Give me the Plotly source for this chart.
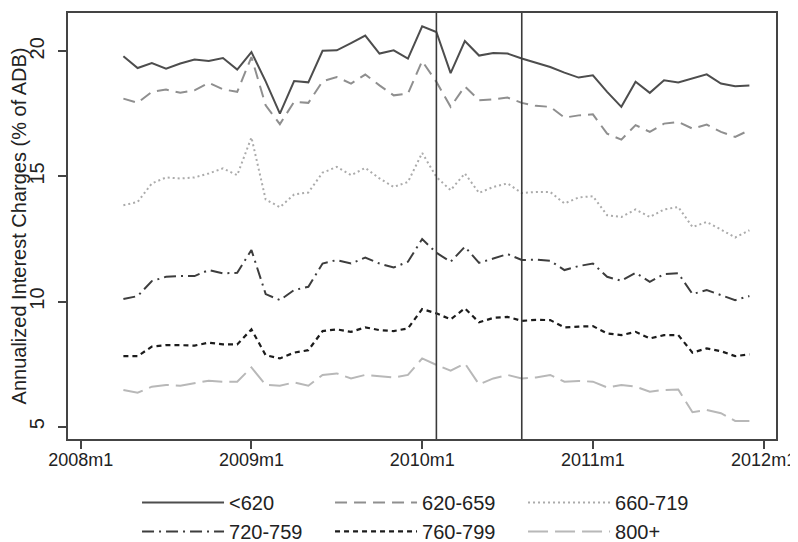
import pandas as pd
import plotly.graph_objects as go

# ---- data ----
start_month = "2008-04"
end_month = "2011-12"

s_lt620 = [19.80, 19.33, 19.53, 19.31, 19.51, 19.67, 19.61, 19.73, 19.27, 19.97,
           18.80, 17.51, 18.81, 18.76, 20.02, 20.04, 20.33, 20.63, 19.91, 20.04,
           19.71, 21.00, 20.77, 19.13, 20.41, 19.83, 19.93, 19.91, 19.71, 19.55,
           19.37, 19.15, 18.95, 19.04, 18.38, 17.78, 18.78, 18.34, 18.84, 18.75,
           18.91, 19.08, 18.71, 18.60, 18.63]
s_620_659 = [18.11, 17.94, 18.38, 18.47, 18.34, 18.44, 18.74, 18.48, 18.38, 19.77,
             17.84, 17.09, 17.98, 17.94, 18.80, 18.97, 18.71, 19.07, 18.64, 18.24,
             18.31, 19.61, 18.78, 17.78, 18.60, 18.04, 18.08, 18.15, 17.94, 17.82,
             17.78, 17.35, 17.44, 17.48, 16.71, 16.47, 17.05, 16.78, 17.11, 17.18,
             16.91, 17.07, 16.78, 16.58, 16.85]
s_660_719 = [13.85, 13.98, 14.72, 14.96, 14.92, 14.96, 15.12, 15.32, 15.05, 16.56,
             14.08, 13.77, 14.28, 14.36, 15.15, 15.38, 15.05, 15.34, 14.92, 14.58,
             14.78, 15.94, 14.98, 14.45, 15.12, 14.34, 14.58, 14.72, 14.34, 14.38,
             14.38, 13.92, 14.16, 14.21, 13.45, 13.38, 13.68, 13.38, 13.68, 13.78,
             12.98, 13.18, 12.88, 12.56, 12.85]
s_720_759 = [10.10, 10.22, 10.82, 10.99, 11.02, 11.02, 11.26, 11.13, 11.15, 12.06,
             10.30, 10.06, 10.46, 10.59, 11.52, 11.66, 11.52, 11.76, 11.52, 11.36,
             11.59, 12.50, 11.95, 11.59, 12.19, 11.55, 11.72, 11.90, 11.66, 11.68,
             11.63, 11.26, 11.42, 11.52, 10.99, 10.83, 11.15, 10.79, 11.10, 11.13,
             10.30, 10.46, 10.26, 10.06, 10.22]
s_760_799 = [7.82, 7.82, 8.20, 8.26, 8.26, 8.24, 8.36, 8.29, 8.29, 8.89,
             7.86, 7.73, 7.96, 8.06, 8.82, 8.89, 8.79, 8.97, 8.86, 8.82,
             8.93, 9.70, 9.53, 9.29, 9.73, 9.17, 9.35, 9.39, 9.23, 9.27,
             9.26, 8.97, 9.00, 9.02, 8.73, 8.66, 8.79, 8.53, 8.66, 8.66,
             7.96, 8.13, 8.02, 7.82, 7.89]
s_800plus = [6.47, 6.36, 6.60, 6.67, 6.64, 6.73, 6.84, 6.80, 6.80, 7.37,
             6.67, 6.64, 6.77, 6.64, 7.07, 7.13, 6.93, 7.07, 7.03, 6.97,
             7.07, 7.73, 7.47, 7.24, 7.53, 6.69, 6.93, 7.07, 6.93, 6.97,
             7.07, 6.80, 6.83, 6.80, 6.57, 6.67, 6.60, 6.40, 6.47, 6.49,
             5.58, 5.67, 5.54, 5.23, 5.23]

series_names = ["<620", "620-659", "660-719", "720-759", "760-799", "800+"]
x_tick_labels = ["2008m1", "2009m1", "2010m1", "2011m1", "2012m1"]
y_tick_values = [5, 10, 15, 20]
event_months = ["2010m2", "2010m8"]
y_title = "Annualized Interest Charges (% of ADB)"

# ---- helpers ----
def stata_tm(label):
    y, m = label.split("m")
    return (int(y) - 1960) * 12 + int(m) - 1

periods = pd.period_range(start_month, end_month, freq="M")
x_vals = [(p.year - 1960) * 12 + p.month - 1 for p in periods]
tick_vals = [stata_tm(t) for t in x_tick_labels]

styles = [
    dict(color="#4d4d4d", dash="solid", width=2),
    dict(color="#8f8f8f", dash="12px,7px", width=2),
    dict(color="#ababab", dash="2px,3px", width=2),
    dict(color="#3d3d3d", dash="12px,5px,2px,5px", width=2),
    dict(color="#1c1c1c", dash="5px,4px", width=2.2),
    dict(color="#b8b8b8", dash="20px,7px", width=2),
]
all_series = [s_lt620, s_620_659, s_660_719, s_720_759, s_760_799, s_800plus]

FONT = "Liberation Sans, Arial, sans-serif"
fig = go.Figure()
for name, vals, st in zip(series_names, all_series, styles):
    fig.add_trace(go.Scatter(x=x_vals, y=vals, mode="lines", name=name,
                             line=dict(color=st["color"], dash=st["dash"], width=st["width"])))

for em in event_months:
    fig.add_vline(x=stata_tm(em), line=dict(color="#3a3a3a", width=1.6))

# the page body adds an 8px offset, so the figure is sized to fill the rest
fig.update_layout(
    width=790, height=534,
    margin=dict(l=60, r=22, t=5, b=103, autoexpand=False),
    paper_bgcolor="white", plot_bgcolor="white",
    font=dict(family=FONT, size=20, color="#222222"),
    showlegend=True,
    legend=dict(orientation="h", x=0.0975, xanchor="left", y=-0.103, yanchor="top",
                entrywidth=96, entrywidthmode="pixels",
                font=dict(size=20), tracegroupgap=0, itemwidth=82),
)
fig.update_xaxes(
    range=[stata_tm("2008m1") - 0.893, stata_tm("2012m1") + 0.87],
    tickvals=tick_vals, ticktext=x_tick_labels, ticklabeloverflow="allow",
    ticklabelstandoff=-4,
    showgrid=False, zeroline=False, automargin=False,
    showline=True, mirror=True, linecolor="#444444", linewidth=1.5,
    ticks="outside", ticklen=8, tickcolor="#444444", tickwidth=1.5,
    tickfont=dict(size=18),
)
fig.update_yaxes(
    range=[4.51, 21.53],
    tickvals=y_tick_values, tickangle=-90, ticklabelstandoff=6,
    showgrid=False, zeroline=False, automargin=False,
    showline=True, mirror=True, linecolor="#444444", linewidth=1.5,
    ticks="outside", ticklen=8, tickcolor="#444444", tickwidth=1.5,
    tickfont=dict(size=20),
    title=dict(text=y_title, font=dict(size=20), standoff=2),
)

fig.write_html("out.html")
